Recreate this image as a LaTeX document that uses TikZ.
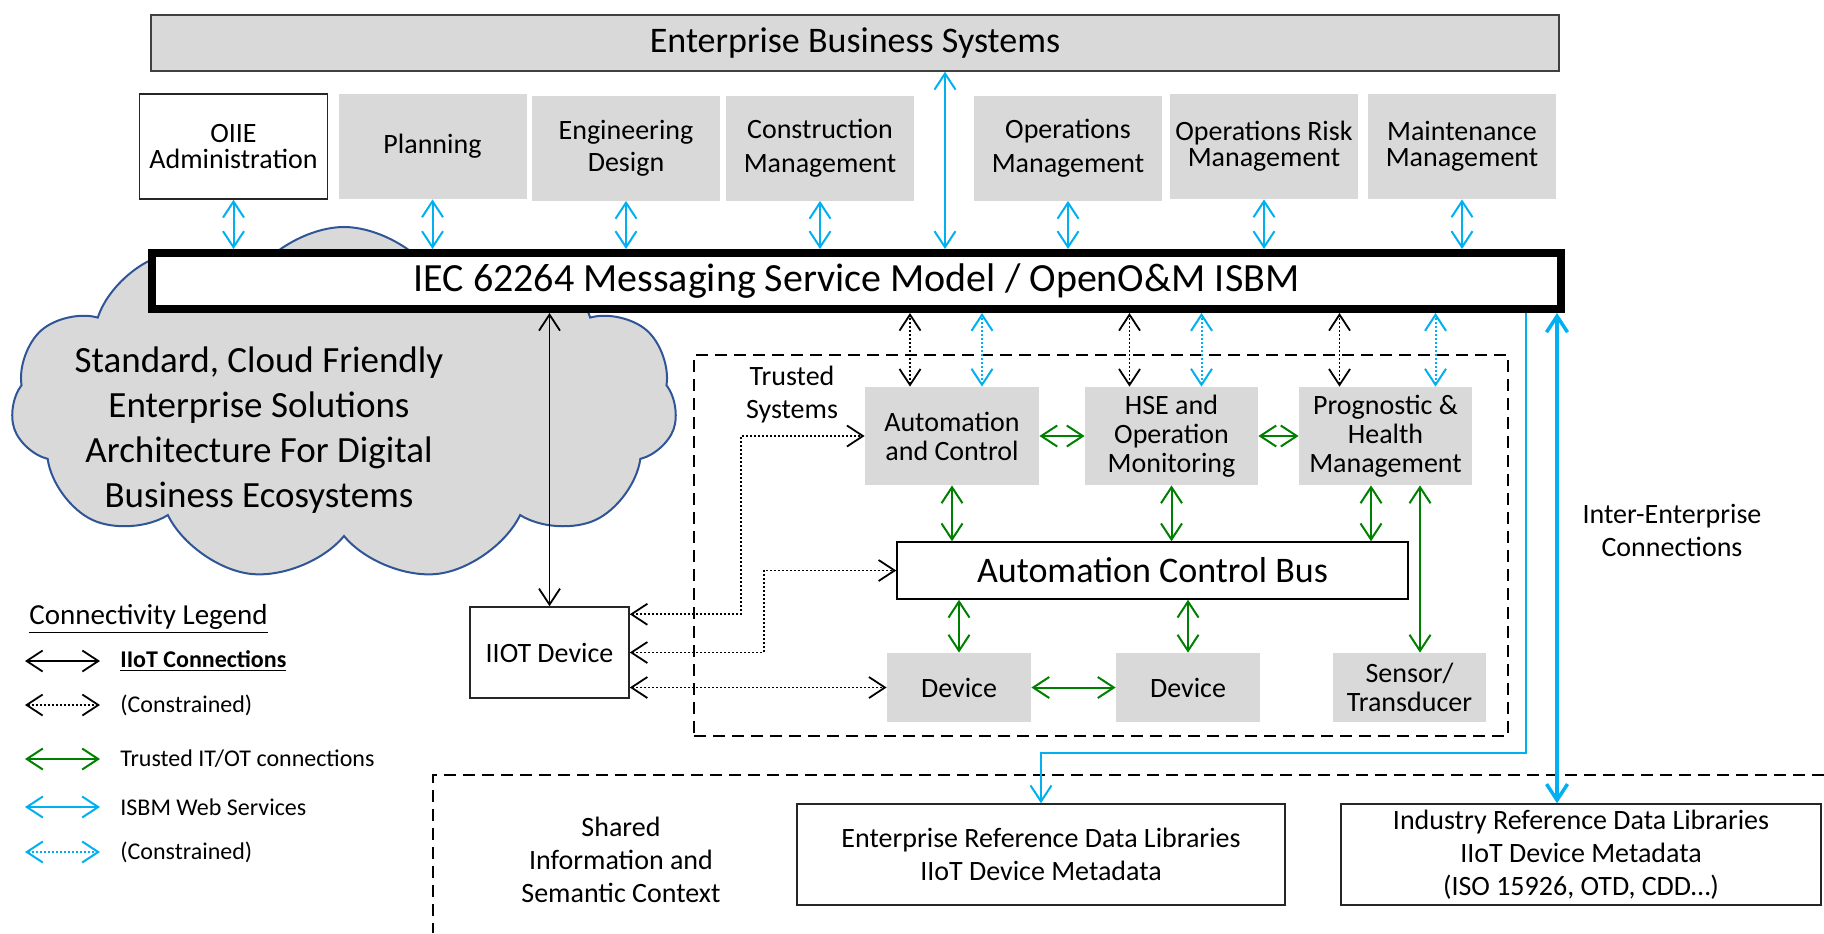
\documentclass[tikz,border=0pt]{standalone}
\usepackage{fontspec}
\setmainfont{Carlito}
\usetikzlibrary{
  arrows.meta,
  positioning,
  shapes.symbols,
  calc
}
\definecolor{boxgray}{HTML}{D9D9D9}
\definecolor{isbmblue}{HTML}{00B0F0}
\definecolor{trustgreen}{HTML}{008000}
\definecolor{cloudline}{HTML}{2F5597}

\begin{document}
\begin{tikzpicture}[
  x=0.5pt, y=-0.5pt,
  every node/.style={font=\fontsize{14}{14.5}\selectfont},
  appbox/.style={fill=boxgray, minimum width=94pt, minimum height=52.5pt,
                 align=center, inner sep=1pt},
  sysbox/.style={fill=boxgray, align=center, inner sep=1pt},
  plainbox/.style={draw=black!85, line width=0.75pt, fill=white, align=center},
  dashedbox/.style={draw=black, line width=1pt, dash pattern=on 6pt off 3.5pt},
  iiot/.style={<->, black, line width=0.9pt},
  iiotdot/.style={iiot, dash pattern=on 1pt off 1pt},
  trusted/.style={<->, trustgreen, line width=1pt},
  websvc/.style={<->, isbmblue, line width=1pt},
  websvcdot/.style={websvc, dash pattern=on 1pt off 1pt},
  legtext/.style={anchor=west, inner sep=0pt, font=\fontsize{12}{14}\selectfont},
  >={Straight Barb[length=8pt,width=10.5pt]}
]
\useasboundingbox (0,0) rectangle (1824,933);

% Cloud behind the messaging bus
\node[cloud, cloud puffs=11, cloud puff arc=115, cloud ignores aspect,
      draw=cloudline, line width=1pt, fill=boxgray,
      minimum width=333pt, minimum height=177pt] (cloud) at (344,404) {};
\node[align=center, font=\fontsize{18.5}{22.5}\selectfont] (cloudtxt) at (259,430)
  {Standard, Cloud Friendly\\Enterprise Solutions\\Architecture For Digital\\Business Ecosystems};

% Enterprise level
\node[fill=boxgray, draw=black!75, line width=0.75pt, inner sep=2pt,
      minimum width=704pt, minimum height=28pt, font=\fontsize{18}{20}\selectfont]
  (ebs) at (855,43) {Enterprise Business Systems};

\node[appbox, draw=black!85, fill=white, line width=0.75pt, font=\fontsize{14}{13}\selectfont]
  (oiie) at (233.5,146.5) {OIIE\\Administration};
\node[appbox] (plan) at (432.5,146.5) {Planning};
\node[appbox, font=\fontsize{14}{16}\selectfont] (eng) at (626,148) {Engineering\\Design};
\node[appbox, font=\fontsize{14}{17}\selectfont] (constr) at (820,148) {Construction\\Management};
\node[appbox, font=\fontsize{14}{17}\selectfont] (ops) at (1068,148) {Operations\\Management};
\node[appbox, font=\fontsize{14}{13}\selectfont] (risk) at (1264,146.5) {Operations Risk\\Management};
\node[appbox, font=\fontsize{14}{13}\selectfont] (maint) at (1462,146.5) {Maintenance\\Management};

% Messaging bus
\node[draw=black, line width=4pt, fill=white, inner sep=2pt,
      minimum width=704.5pt, minimum height=28pt, font=\fontsize{20}{22}\selectfont]
  (isbm) at (856.5,281) {IEC 62264 Messaging Service Model / OpenO\&M ISBM};

\foreach \b in {oiie, plan, eng, constr, ops, risk, maint}
  \draw[websvc] (\b.south) -- (\b.south |- isbm.north);
\coordinate (ebsport) at ($(ebs.south)+(90,0)$);
\draw[websvc] (ebsport) -- (ebsport |- isbm.north);

% Trusted systems
\node[dashedbox, minimum width=407pt, minimum height=190.5pt] (trust) at (1101,545.5) {};
\node[align=center, font=\fontsize{14}{16.5}\selectfont] (trustlbl) at (792,395) {Trusted\\Systems};

\node[sysbox, minimum width=87pt, minimum height=49pt] (ac) at (952,436) {Automation\\and Control};
\node[sysbox, minimum width=86.5pt, minimum height=49pt] (hse) at (1171.5,436) {HSE and\\Operation\\Monitoring};
\node[sysbox, minimum width=86.5pt, minimum height=49pt] (prog) at (1385.5,436) {Prognostic \&\\Health\\Management};
\node[plainbox, draw=black, inner sep=1pt, minimum width=255.5pt, minimum height=28.5pt,
      font=\fontsize{18}{20}\selectfont] (acb) at (1152.5,570.5) {Automation Control Bus};
\node[sysbox, minimum width=72pt, minimum height=34.5pt] (dev1) at (959,687.5) {Device};
\node[sysbox, minimum width=72pt, minimum height=34.5pt] (dev2) at (1188,687.5) {Device};
\node[sysbox, minimum width=76.5pt, minimum height=34.5pt] (sensor) at (1409.5,687.5) {Sensor/\\Transducer};

\foreach \b/\dk/\db in {ac/-42/30, hse/-42/30, prog/-46/50} {
  \coordinate (\b-k) at ($(\b.north)+(\dk,0)$);
  \coordinate (\b-w) at ($(\b.north)+(\db,0)$);
  \draw[iiotdot] (\b-k) -- (\b-k |- isbm.south);
  \draw[websvcdot] (\b-w) -- (\b-w |- isbm.south);
}

\draw[trusted] (ac.east) -- (hse.west);
\draw[trusted] (hse.east) -- (prog.west);
\draw[trusted] (ac.south) -- (ac.south |- acb.north);
\draw[trusted] (hse.south) -- (hse.south |- acb.north);
\coordinate (progbus) at ($(prog.south)+(-14.5,0)$);
\coordinate (progsens) at ($(prog.south)+(34.5,0)$);
\draw[trusted] (progbus) -- (progbus |- acb.north);
\draw[trusted] (progsens) -- (progsens |- sensor.north);
\draw[trusted] (dev1.north) -- (dev1.north |- acb.south);
\draw[trusted] (dev2.north) -- (dev2.north |- acb.south);
\draw[trusted] (dev1.east) -- (dev2.west);

% IIoT device
\node[plainbox, minimum width=79.5pt, minimum height=45.5pt] (iiotdev) at (549.5,652.5) {IIOT Device};
\draw[iiot] (iiotdev.north) -- (iiotdev.north |- isbm.south);
\draw[iiotdot] ([yshift=-4pt]iiotdev.north east) -- ++(111,0) |- (ac.west);
\draw[iiotdot] (iiotdev.east) -- ++(134,0) |- (acb.west);
\draw[iiotdot] (iiotdev.east |- dev1.west) -- (dev1.west);

% Shared information
\draw[dashedbox] (1824,775) -- (433,775) -- (433,933);
\node[align=center, font=\fontsize{14}{16.5}\selectfont] (shared) at (621,860)
  {Shared\\Information and\\Semantic Context};
\node[plainbox, inner sep=1pt, minimum width=244pt, minimum height=50.5pt,
      font=\fontsize{14}{16.5}\selectfont] (erdl) at (1041,854.5)
  {Enterprise Reference Data Libraries\\IIoT Device Metadata};
\node[plainbox, inner sep=1pt, minimum width=240pt, minimum height=50.5pt,
      font=\fontsize{14}{16.5}\selectfont] (indl) at (1581,854.5)
  {Industry Reference Data Libraries\\IIoT Device Metadata\\(ISO 15926, OTD, CDD\dots)};

\node[align=center, font=\fontsize{14}{16.5}\selectfont] (interlbl) at (1672,530)
  {Inter-Enterprise\\Connections};

\coordinate (refport) at ($(isbm.south east)+(-39,0)$);
\draw[->, isbmblue, line width=1pt] (refport) -- ++(0,440) -| (erdl.north);
\coordinate (interport) at ($(isbm.south east)+(-8,0)$);
\draw[websvc, line width=1.75pt] (interport) -- (interport |- indl.north);

% Legend
\node[anchor=west, inner sep=0pt, font=\fontsize{14.5}{16}\selectfont] (legtitle) at (29,619)
  {\underline{Connectivity Legend}};
\foreach \y/\s/\t [count=\i] in {661/iiot/{\textbf{\underline{IIoT Connections}}},
    705/iiotdot/{(Constrained)}, 759/trusted/{Trusted IT/OT connections},
    807/websvc/{ISBM Web Services}, 852/websvcdot/{(Constrained)}} {
  \coordinate (legend\i) at (25,\y);
  \node[legtext] (legtxt\i) at (120,\y) {\t};
  \draw[\s, shorten >=10pt] (legend\i) -- (legtxt\i.west);
}

\end{tikzpicture}
\end{document}
